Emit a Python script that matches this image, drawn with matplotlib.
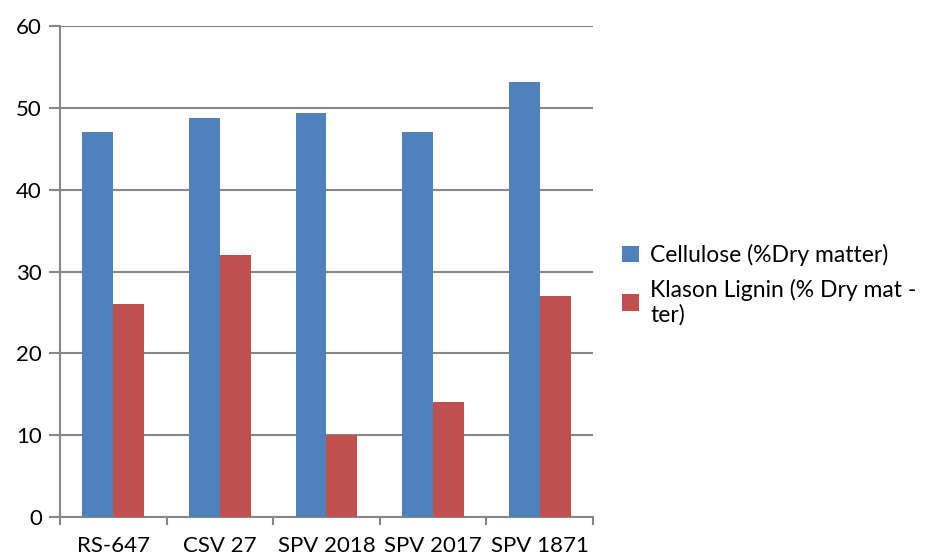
import numpy as np
import matplotlib
matplotlib.use("Agg")
from matplotlib import pyplot as plt

# Data
varieties = ["RS-647", "CSV 27", "SPV 2018", "SPV 2017", "SPV 1871"]
cellulose = [47.0, 48.8, 49.4, 47.0, 53.1]
lignin = [26.0, 32.0, 10.0, 14.0, 27.0]
series_names = ["Cellulose (%Dry matter)", "Klason Lignin (% Dry mat -\nter)"]

plt.rcParams["font.family"] = ["Lato", "DejaVu Sans"]

fig = plt.figure(figsize=(9.29, 5.55), dpi=100)
ax = fig.add_axes([60 / 929, 38 / 555, 533 / 929, 491 / 555])

x = np.arange(len(varieties))
w = 0.29
ax.bar(x - w / 2, cellulose, w, color="#4F81BD", label=series_names[0], zorder=3)
ax.bar(x + w / 2, lignin, w, color="#C0504D", label=series_names[1], zorder=3)

grid_c = "#878787"
ax.set_ylim(0, 60)
ax.set_yticks(range(0, 61, 10))
ax.yaxis.grid(True, color=grid_c, linewidth=1.5, zorder=0)
ax.tick_params(axis="y", length=8, width=1.5, color=grid_c, labelsize=16, pad=5)

ax.set_xlim(-0.5, len(varieties) - 0.5)
ax.set_xticks(np.arange(-0.5, len(varieties), 1.0))
ax.set_xticklabels([])
ax.set_xticks(x, minor=True)
ax.set_xticklabels(varieties, minor=True, fontsize=16)
ax.tick_params(axis="x", which="major", length=6, width=1.5, color=grid_c)
ax.tick_params(axis="x", which="minor", length=0, pad=14)

for s in ["top", "right"]:
    ax.spines[s].set_visible(False)
for s in ["left", "bottom"]:
    ax.spines[s].set_color(grid_c)
    ax.spines[s].set_linewidth(1.5)

fig.legend(loc="center left", bbox_to_anchor=(0.647, 0.487), frameon=False,
           fontsize=16.5, handlelength=0.75, handleheight=0.75, handletextpad=0.5,
           labelspacing=0.55)

plt.savefig("out.png", dpi=100)
